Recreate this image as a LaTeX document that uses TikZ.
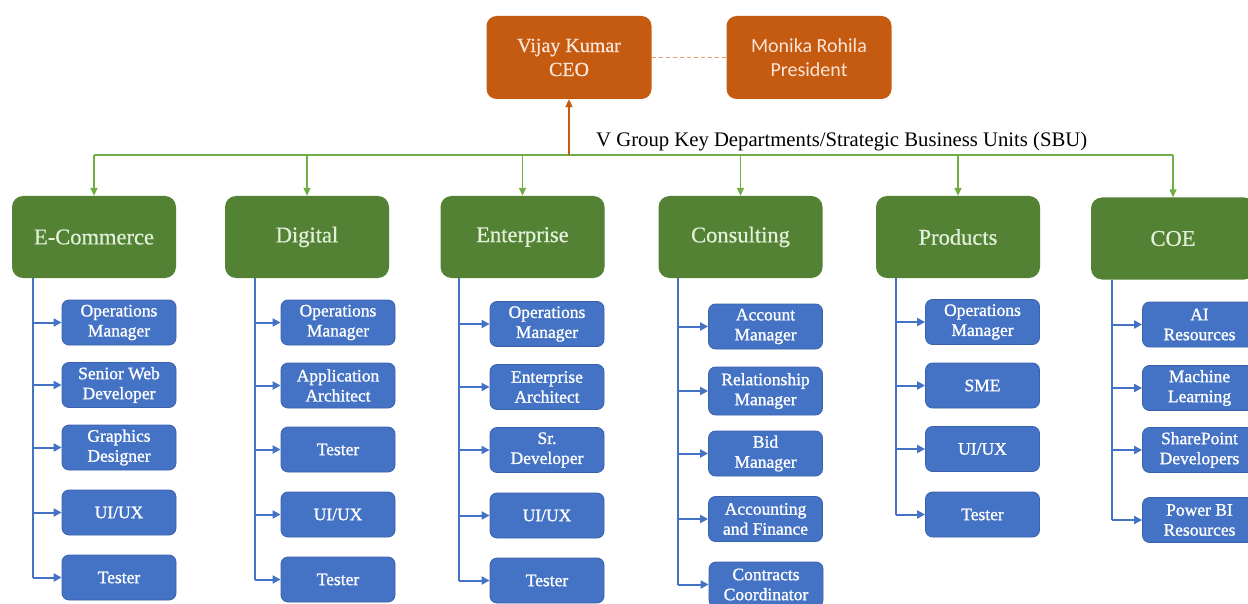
\documentclass[tikz,border=0pt]{standalone}
\usepackage{fontspec}
\setmainfont{Liberation Serif}
\newfontfamily\calib{Carlito}
\newfontfamily\boldish[FakeBold=1.2]{Liberation Serif}
\newfontfamily\semiish[FakeBold=0.6]{Liberation Serif}
\usetikzlibrary{arrows.meta}
\definecolor{orangebox}{HTML}{C55A11}
\definecolor{greenbox}{HTML}{548235}
\definecolor{greenline}{HTML}{70AD47}
\definecolor{greentext}{HTML}{E2F0D9}
\definecolor{bluebox}{HTML}{4472C4}
\definecolor{blueedge}{HTML}{3A62AC}
\definecolor{orangetext}{HTML}{FBE5D6}
\definecolor{dashcol}{HTML}{E8A070}
\tikzset{
  obox/.style={fill=orangebox, rounded corners=10pt, minimum width=165pt, minimum height=83pt, inner sep=0pt, align=center, text=orangetext, font=\semiish\fontsize{20}{24}\selectfont},
  gbox/.style={fill=greenbox, rounded corners=11pt, minimum width=164pt, minimum height=82pt, inner sep=0pt, align=center, text=greentext, font=\semiish\fontsize{22.5}{26}\selectfont},
  bbox/.style={fill=bluebox, draw=blueedge, line width=0.8pt, rounded corners=7pt, minimum width=114pt, minimum height=45pt, inner sep=0pt, align=center, text=white, font=\boldish\fontsize{17.5}{20}\selectfont},
  gline/.style={draw=greenline, line width=1.4pt},
  garrow/.style={draw=greenline, line width=1.4pt, -{Triangle[length=8pt,width=7pt]}},
  oarrow/.style={draw=orangebox, line width=2pt, -{Triangle[length=8pt,width=7pt]}},
  odash/.style={draw=dashcol, line width=1.2pt, dash pattern=on 4pt off 3pt},
  bline/.style={draw=bluebox, line width=2pt},
  barrow/.style={draw=bluebox, line width=2pt, -{Triangle[length=8pt,width=8pt]}},
}
\begin{document}
\begin{tikzpicture}[x=1pt,y=-1pt]
\useasboundingbox (0,0) rectangle (1248,604);
\clip (0,0) rectangle (1248,604);
\fill[white] (0,0) rectangle (1248,604);

% top
\node[obox] (ceo) at (569,57.5) {Vijay Kumar\\CEO};
\node[obox, font=\calib\fontsize{20}{24}\selectfont] (pres) at (809,57.5) {Monika Rohila\\President};
\draw[odash] (ceo) -- (pres);

\coordinate (hl) at (0,155);
\node[anchor=base west, font=\fontsize{20.7}{24}\selectfont, inner sep=0pt] (sbu) at (596,147) {V Group Key Departments/Strategic Business Units (SBU)};

% green boxes
\node[gbox] (ecom) at (94,237) {E-Commerce};
\node[gbox] (dig) at (307,237) {Digital};
\node[gbox] (ent) at (522.5,237) {Enterprise};
\node[gbox] (cons) at (740.5,237) {Consulting};
\node[gbox] (prod) at (958,237) {Products};
\node[gbox] (coe) at (1173,238.5) {COE};

\draw[gline] (ecom.north |- hl) -- (coe.north |- hl);
\draw[oarrow] (ceo.south |- hl) -- (ceo.south);
\foreach \g in {ecom,dig,ent,cons,prod,coe}{
  \draw[garrow] (\g.north |- hl) -- (\g.north);
}

% E-Commerce column
\node[bbox] (e1) at (119,322.5) {Operations\\Manager};
\node[bbox] (e2) at (119,385) {Senior Web\\Developer};
\node[bbox] (e3) at (119,447.5) {Graphics\\Designer};
\node[bbox] (e4) at (119,512.5) {UI/UX};
\node[bbox] (e5) at (119,577.5) {Tester};
\coordinate (eL) at (33,0);
\draw[bline] (eL |- ecom.south) -- (eL |- e5.west);
\foreach \b in {e1,e2,e3,e4,e5}{ \draw[barrow] (eL |- \b.west) -- (\b.west); }

% Digital column
\node[bbox] (d1) at (338,322.5) {Operations\\Manager};
\node[bbox] (d2) at (338,385.5) {Application\\Architect};
\node[bbox] (d3) at (338,449.5) {Tester};
\node[bbox] (d4) at (338,514.5) {UI/UX};
\node[bbox] (d5) at (338,579.5) {Tester};
\coordinate (dL) at (255,0);
\draw[bline] (dL |- dig.south) -- (dL |- d5.west);
\foreach \b in {d1,d2,d3,d4,d5}{ \draw[barrow] (dL |- \b.west) -- (\b.west); }

% Enterprise column
\node[bbox] (n1) at (547,324) {Operations\\Manager};
\node[bbox] (n2) at (547,387) {Enterprise\\Architect};
\node[bbox] (n3) at (547,450) {Sr.\\Developer};
\node[bbox] (n4) at (547,515.5) {UI/UX};
\node[bbox] (n5) at (547,580.5) {Tester};
\coordinate (nL) at (459,0);
\draw[bline] (nL |- ent.south) -- (nL |- n5.west);
\foreach \b in {n1,n2,n3,n4,n5}{ \draw[barrow] (nL |- \b.west) -- (\b.west); }

% Consulting column
\node[bbox] (c1) at (765.5,326.5) {Account\\Manager};
\node[bbox, minimum height=48pt] (c2) at (765.5,391) {Relationship\\Manager};
\node[bbox] (c3) at (765.5,453.5) {Bid\\Manager};
\node[bbox] (c4) at (765.5,519) {Accounting\\and Finance};
\node[bbox] (c5) at (766,584.5) {Contracts\\Coordinator};
\coordinate (cL) at (678,0);
\draw[bline] (cL |- cons.south) -- (cL |- c5.west);
\foreach \b in {c1,c2,c3,c4,c5}{ \draw[barrow] (cL |- \b.west) -- (\b.west); }

% Products column
\node[bbox] (p1) at (982.5,322) {Operations\\Manager};
\node[bbox] (p2) at (982.5,385.5) {SME};
\node[bbox] (p3) at (982.5,449) {UI/UX};
\node[bbox] (p4) at (982.5,514.5) {Tester};
\coordinate (pL) at (896,0);
\draw[bline] (pL |- prod.south) -- (pL |- p4.west);
\foreach \b in {p1,p2,p3,p4}{ \draw[barrow] (pL |- \b.west) -- (\b.west); }

% COE column
\node[bbox] (o1) at (1199.5,324.5) {AI\\Resources};
\node[bbox] (o2) at (1199.5,388) {Machine\\Learning};
\node[bbox] (o3) at (1199.5,450) {SharePoint\\Developers};
\node[bbox] (o4) at (1199.5,520) {Power BI\\Resources};
\coordinate (oL) at (1112,0);
\draw[bline] (oL |- coe.south) -- (oL |- o4.west);
\foreach \b in {o1,o2,o3,o4}{ \draw[barrow] (oL |- \b.west) -- (\b.west); }
\end{tikzpicture}
\end{document}
